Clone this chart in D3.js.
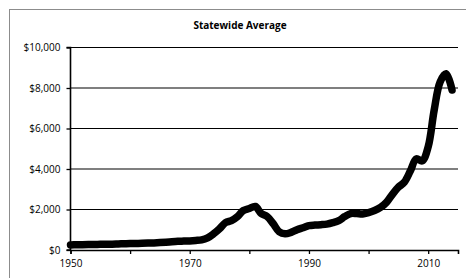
<!DOCTYPE html>
<html>
<head>
<meta charset="utf-8">
<script src="https://cdn.jsdelivr.net/npm/d3@7"></script>
<style>
  body { margin: 0; background: #fff; }
  text { font-family: "Open Sans", sans-serif; }
</style>
</head>
<body>
<div id="chart"></div>
<script>
const years = d3.range(1950, 2015);
const values = [
  250, 260, 265, 270, 275, 280, 285, 290, 300, 310,
  320, 325, 330, 340, 350, 365, 385, 410, 430, 440,
  450, 470, 500, 600, 800, 1050, 1350, 1450, 1650, 1950,
  2050, 2150, 1800, 1650, 1300, 900, 800, 870, 1000, 1100,
  1200, 1230, 1250, 1280, 1350, 1450, 1650, 1800, 1800, 1780,
  1850, 1950, 2100, 2350, 2750, 3100, 3350, 3900, 4500, 4400,
  5100, 6900, 8300, 8700, 7900
];
const yTicks = [0, 2000, 4000, 6000, 8000, 10000];
const xTicks = [1950, 1960, 1970, 1980, 1990, 2000, 2010];
const xLabels = [1950, 1970, 1990, 2010];
const title = "Statewide Average";

const data = years.map((y, i) => ({year: y, value: values[i]}));

const W = 466, H = 278;
const margin = {top: 47.5, right: 8, bottom: 28, left: 70.5};
const width = W - margin.left - margin.right,
      height = H - margin.top - margin.bottom;

const svg = d3.select("#chart")
              .append("svg")
              .attr("width", W)
              .attr("height", H);

// outer frame
svg.append("rect")
   .attr("x", 9.5)
   .attr("y", 9.5)
   .attr("width", W)
   .attr("height", H)
   .attr("fill", "none")
   .attr("stroke", "#8c8c8c")
   .attr("stroke-width", 1);

svg.append("text")
   .attr("x", 240)
   .attr("y", 29)
   .attr("text-anchor", "middle")
   .attr("font-size", 10)
   .attr("font-weight", "bold")
   .text(title);

const g = svg.append("g")
             .attr("transform", `translate(${margin.left},${margin.top})`);

const xScale = d3.scaleLinear()
                 .domain([1950, 2015])
                 .range([0, width]);
const yScale = d3.scaleLinear()
                 .domain([0, 10000])
                 .range([height, 0]);

// gridlines
g.append("g")
 .selectAll("line")
 .data(yTicks.slice(1))
 .enter()
 .append("line")
 .attr("x1", 0)
 .attr("x2", width)
 .attr("y1", d => yScale(d))
 .attr("y2", d => yScale(d))
 .attr("stroke", "#000")
 .attr("stroke-width", 1.2);

const yAxis = d3.axisLeft(yScale)
                .tickValues(yTicks)
                .tickSize(4)
                .tickPadding(6)
                .tickFormat(d => "$" + d3.format(",")(d));
const xAxis = d3.axisBottom(xScale)
                .tickValues(xTicks)
                .tickSize(4)
                .tickPadding(6)
                .tickFormat(d => xLabels.includes(d) ? d : "");

const drawY = g.append("g").call(yAxis);
const drawX = g.append("g")
               .attr("transform", `translate(0, ${height})`)
               .call(xAxis);

[drawX, drawY].forEach(a => {
  a.select(".domain").attr("stroke", "#000").attr("stroke-width", 1.6);
  a.selectAll(".tick line").attr("stroke", "#000").attr("stroke-width", 1.3);
  a.selectAll("text")
   .attr("font-size", 10)
   .attr("font-family", "'Open Sans', sans-serif")
   .attr("fill", "#000");
});
drawY.select(".domain").attr("d", `M-4,${height}H0V0H-4`);

const line = d3.line()
               .x(d => xScale(d.year))
               .y(d => yScale(d.value))
               .curve(d3.curveCatmullRom.alpha(0.5));

g.append("path")
 .datum(data)
 .attr("d", line)
 .attr("fill", "none")
 .attr("stroke", "#000")
 .attr("stroke-width", 7.5)
 .attr("stroke-linejoin", "round")
 .attr("stroke-linecap", "round");
</script>
</body>
</html>
